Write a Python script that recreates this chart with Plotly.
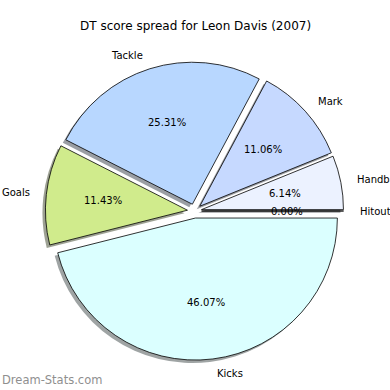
import math
import plotly.graph_objects as go

categories = ["Hitout", "Handball", "Mark", "Tackle", "Goals", "Kicks"]
values = [0.00, 6.14, 11.06, 25.31, 11.43, 46.07]
colors = ["#ffffff", "#ecf2ff", "#c6d9ff", "#b8d7ff", "#d0eb8c", "#dbffff"]
explode = [0.05, 0.05, 0.05, 0.05, 0.05, 0.05]
title = "DT score spread for Leon Davis (2007)"
watermark = "Dream-Stats.com"

W = H = 390
R = 142.0
CX, CY = 194.5, 211.0
PULL = max(explode)
HALF = R * (1 + PULL)
SHX, SHY = -3.0, 3.0


def dom(cx, cy):
    return dict(x=[(cx - HALF) / W, (cx + HALF) / W],
                y=[(H - cy - HALF) / H, (H - cy + HALF) / H])


def shade(c):
    r, g, b = int(c[1:3], 16), int(c[3:5], 16), int(c[5:7], 16)
    return "rgb(%d,%d,%d)" % (r * 0.3, g * 0.3, b * 0.3)


fig = go.Figure()
fig.add_trace(go.Pie(
    labels=categories, values=values, sort=False, direction="counterclockwise",
    rotation=90, pull=explode, textinfo="none", hoverinfo="skip",
    marker=dict(colors=[shade(c) for c in colors], line=dict(width=0)),
    opacity=0.5, domain=dom(CX + SHX, CY + SHY), showlegend=False,
))
fig.add_trace(go.Pie(
    labels=categories, values=values, sort=False, direction="counterclockwise",
    rotation=90, pull=explode, textinfo="none", hoverinfo="label+percent",
    marker=dict(colors=colors, line=dict(color="#000000", width=0.8)),
    domain=dom(CX, CY), showlegend=False,
))

total = sum(values)
ann = []
cum = 0.0
for lab, v, ex in zip(categories, values, explode):
    t1 = 360.0 * cum / total
    cum += v
    t2 = 360.0 * cum / total
    m = math.radians((t1 + t2) / 2)
    c, s = math.cos(m), math.sin(m)
    d = ex * R + 1.1 * R
    lx, ly = CX + d * c, CY - d * s
    ann.append(dict(x=lx / W, y=1 - ly / H, xref="paper", yref="paper",
                    text=lab, showarrow=False,
                    xanchor="left" if c > 0 else "right", yanchor="middle",
                    font=dict(family="DejaVu Sans", size=10, color="#000")))
    d = ex * R + 0.6 * R
    px, py = CX + d * c, CY - d * s
    ann.append(dict(x=px / W, y=1 - py / H, xref="paper", yref="paper",
                    text="%.2f%%" % (100.0 * v / total), showarrow=False,
                    xanchor="center", yanchor="middle",
                    font=dict(family="DejaVu Sans", size=10, color="#000")))

ann.append(dict(x=0.5, y=1 - 26 / H, xref="paper", yref="paper", text=title,
                showarrow=False, xanchor="center", yanchor="middle",
                font=dict(family="DejaVu Sans", size=12, color="#000")))
ann.append(dict(x=0, y=1 - 380 / H, xref="paper", yref="paper", text=watermark,
                showarrow=False, xanchor="left", yanchor="middle",
                font=dict(family="DejaVu Sans", size=11.5, color="#8f8f8f")))

fig.update_layout(
    width=W, height=H, margin=dict(l=0, r=0, t=0, b=0),
    paper_bgcolor="white", plot_bgcolor="white", annotations=ann,
)
fig.write_html("out.html", config={"displayModeBar": False},
               post_script="document.body.style.margin='0';document.body.style.overflow='hidden';")
